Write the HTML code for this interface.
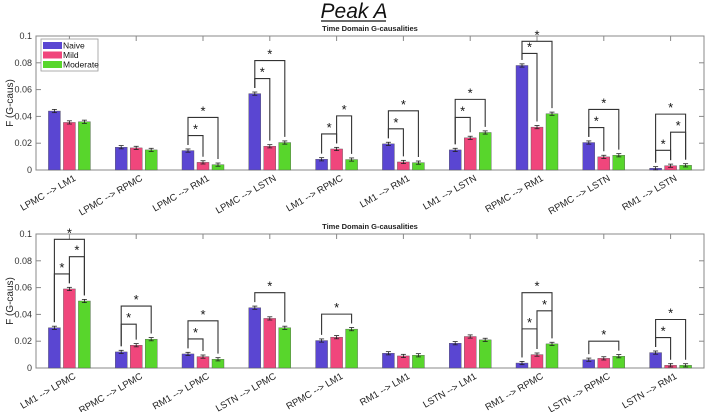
<!DOCTYPE html>
<html><head><meta charset="utf-8">
<style>
html,body{margin:0;padding:0;background:#fff;}
svg{display:block;font-family:"Liberation Sans",Arial,sans-serif;}
</style></head>
<body>
<svg id="chart" width="708" height="412" viewBox="0 0 708 412" xmlns="http://www.w3.org/2000/svg">
<text x="354" y="18" text-anchor="middle" font-size="21" font-style="italic" fill="#111">Peak A</text>
<line x1="321" y1="21" x2="386" y2="21" stroke="#111" stroke-width="1.2"/>
</svg>
<script>
const topCategories = ["LPMC --> LM1","LPMC --> RPMC","LPMC --> RM1","LPMC --> LSTN","LM1 --> RPMC","LM1 --> RM1","LM1 --> LSTN","RPMC --> RM1","RPMC --> LSTN","RM1 --> LSTN"];
const topNaive = [0.044,0.017,0.0145,0.057,0.008,0.0195,0.015,0.078,0.0205,0.0013];
const topMild = [0.0355,0.0165,0.0057,0.0177,0.0157,0.006,0.024,0.032,0.0098,0.0032];
const topModerate = [0.036,0.015,0.004,0.0205,0.0078,0.0055,0.028,0.042,0.011,0.0035];
const topSig = [[],[],[[0,1],[0,2]],[[0,1],[0,2]],[[0,1],[1,2]],[[0,1],[0,2]],[[0,1],[0,2]],[[0,1],[0,2]],[[0,1],[0,2]],[[0,1],[1,2],[0,2]]];
const botCategories = ["LM1 --> LPMC","RPMC --> LPMC","RM1 --> LPMC","LSTN --> LPMC","RPMC --> LM1","RM1 --> LM1","LSTN --> LM1","RM1 --> RPMC","LSTN --> RPMC","LSTN --> RM1"];
const botNaive = [0.030,0.012,0.0105,0.045,0.0205,0.011,0.0185,0.0037,0.0062,0.0115];
const botMild = [0.059,0.017,0.0085,0.037,0.023,0.009,0.0235,0.010,0.0072,0.002];
const botModerate = [0.050,0.0215,0.0065,0.030,0.029,0.0095,0.021,0.018,0.0088,0.002];
const botSig = [[[0,1],[1,2],[0,2]],[[0,1],[0,2]],[[0,1],[0,2]],[[0,2]],[[0,2]],[],[],[[0,1],[1,2],[0,2]],[[0,2]],[[0,1],[0,2]]];
const yTicks = [0,0.02,0.04,0.06,0.08,0.1];
const yTickLabels = ["0","0.02","0.04","0.06","0.08","0.1"];
const seriesNames = ["Naive","Mild","Moderate"];
const colors = ["#5a46d2","#f0467c","#58d62c"];
const errSize = 0.0012;

const svg = document.getElementById('chart');
const NS = "http://www.w3.org/2000/svg";
function mk(tag, attrs, parent){
  const e = document.createElementNS(NS, tag);
  for (const k in attrs) e.setAttribute(k, attrs[k]);
  (parent||svg).appendChild(e); return e;
}

function panel(pid, top, bottom, cats, series, sig, legend){
  const L = 36, R = 704;
  const g = mk('g', {});
  
  
  const y = v => bottom - v / 0.1 * (bottom - top);
  const gw = (R - L) / cats.length;
  const cx = i => L + gw * (i + 0.5);
  const barW = 12, off = 15;
  const st = mk('text', {x:370, y: top - 5, 'text-anchor':'middle', 'font-size':7.5, 'font-weight':'bold', fill:'#222'}, g);
  st.textContent = "Time Domain G-causalities";
  
  
  const box = mk('rect', {x:L, y:top, width:R-L, height:bottom-top, fill:'none', stroke:'#888', 'stroke-width':1}, g);
  
  
  yTicks.forEach((t, k) => {
    const ty = y(t);
    mk('line', {x1:L, x2:L+5, y1:ty, y2:ty, stroke:'#888'}, g);
    mk('line', {x1:R-5, x2:R, y1:ty, y2:ty, stroke:'#888'}, g);
    const lb = mk('text', {x:L-4, y:ty+3, 'text-anchor':'end', 'font-size':9, fill:'#333'}, g);
    lb.textContent = yTickLabels[k];
    
    
  });
  const yt = mk('text', {x:0, y:0, 'text-anchor':'middle', 'font-size':10, fill:'#222', transform:`translate(13,${(top+bottom)/2}) rotate(-90)`}, g);
  yt.textContent = "F (G-caus)";
  
  
  cats.forEach((c, i) => {
    const x = cx(i);
    mk('line', {x1:x, x2:x, y1:top, y2:top+5, stroke:'#888'}, g);
    mk('line', {x1:x, x2:x, y1:bottom, y2:bottom-5, stroke:'#888'}, g);
    const lb = mk('text', {x:0, y:0, 'text-anchor':'end', 'font-size':9.5, fill:'#222', transform:`translate(${x+7},${bottom+10}) rotate(-30)`}, g);
    lb.textContent = c;
    
    
    const tops = [];
    series.forEach((s, j) => {
      const v = s[i];
      const bx = x + (j - 1) * off - barW / 2;
      const r = mk('rect', {x:bx, y:y(v), width:barW, height:bottom - y(v), fill:colors[j], stroke:'#555', 'stroke-width':0.4}, g);
      
      
      const ex = bx + barW / 2;
      mk('line', {x1:ex, x2:ex, y1:y(v+errSize), y2:y(v-errSize), stroke:'#222', 'stroke-width':0.8}, g);
      mk('line', {x1:ex-2.5, x2:ex+2.5, y1:y(v+errSize), y2:y(v+errSize), stroke:'#222', 'stroke-width':0.8}, g);
      mk('line', {x1:ex-2.5, x2:ex+2.5, y1:y(v-errSize), y2:y(v-errSize), stroke:'#222', 'stroke-width':0.8}, g);
      tops.push(v + errSize);
    });
    const mx = Math.max(...tops);
    const n = sig[i].length;
    let first = mx + 0.010, step = 0.0135;
    if (n > 0 && first + (n - 1) * step > 0.096){
      first = Math.min(first, Math.max(mx + 0.005, 0.096 - (n - 1) * 0.009));
      step = n > 1 ? (0.096 - first) / (n - 1) : 0;
    }
    sig[i].forEach((p, k) => {
      const lv = first + k * step;
      const ly = y(lv);
      const xa = x + (p[0] - 1) * off, xb = x + (p[1] - 1) * off;
      const br = mk('polyline', {points:`${xa},${y(tops[p[0]]+0.003)} ${xa},${ly} ${xb},${ly} ${xb},${y(tops[p[1]]+0.003)}`, fill:'none', stroke:'#333', 'stroke-width':1.1}, g);
      
      
      const s = mk('text', {x:(xa+xb)/2, y:ly - 2, 'text-anchor':'middle', 'font-size':13, fill:'#111'}, g);
      s.textContent = "*";
      
      
    });
  });
  if (legend){
    const lg = mk('g', {}, g);
    
    
    mk('rect', {x:41, y:39, width:57, height:32, fill:'#fff', stroke:'#999', 'stroke-width':0.8}, lg);
    seriesNames.forEach((n, j) => {
      const e = mk('g', {}, lg);
      
      
      mk('rect', {x:43, y:42 + j*9.5, width:19, height:7, fill:colors[j]}, e);
      const t = mk('text', {x:63, y:48.5 + j*9.5, 'font-size':8.5, fill:'#111'}, e);
      t.textContent = n;
    });
  }
}
panel('top', 36, 170, topCategories, [topNaive, topMild, topModerate], topSig, true);
panel('bottom', 234, 368, botCategories, [botNaive, botMild, botModerate], botSig, false);
</script>
</body></html>
